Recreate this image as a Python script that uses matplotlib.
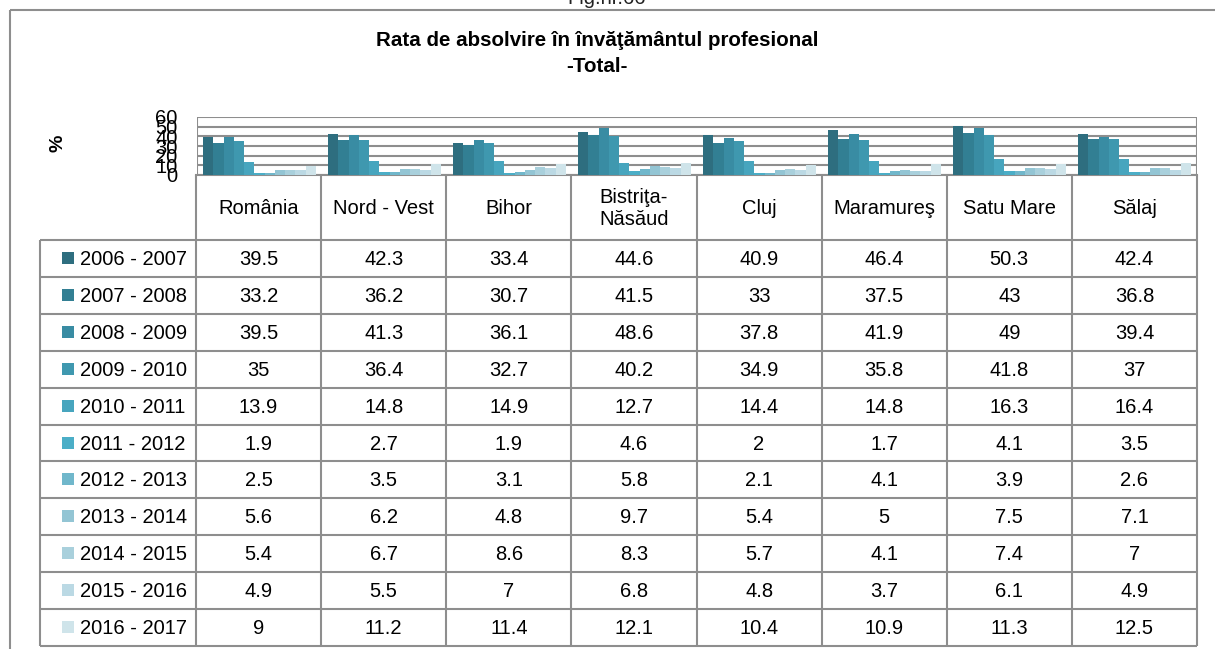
import matplotlib
matplotlib.use("Agg")
import matplotlib.pyplot as plt
from matplotlib.patches import Rectangle

# ---- data -------------------------------------------------------------
categories = ["România", "Nord - Vest", "Bihor", "Bistriţa-\nNăsăud",
              "Cluj", "Maramureş", "Satu Mare", "Sălaj"]
periods = ["2006 - 2007", "2007 - 2008", "2008 - 2009", "2009 - 2010",
           "2010 - 2011", "2011 - 2012", "2012 - 2013", "2013 - 2014",
           "2014 - 2015", "2015 - 2016", "2016 - 2017"]

s2006_2007 = [39.5, 42.3, 33.4, 44.6, 40.9, 46.4, 50.3, 42.4]
s2007_2008 = [33.2, 36.2, 30.7, 41.5, 33, 37.5, 43, 36.8]
s2008_2009 = [39.5, 41.3, 36.1, 48.6, 37.8, 41.9, 49, 39.4]
s2009_2010 = [35, 36.4, 32.7, 40.2, 34.9, 35.8, 41.8, 37]
s2010_2011 = [13.9, 14.8, 14.9, 12.7, 14.4, 14.8, 16.3, 16.4]
s2011_2012 = [1.9, 2.7, 1.9, 4.6, 2, 1.7, 4.1, 3.5]
s2012_2013 = [2.5, 3.5, 3.1, 5.8, 2.1, 4.1, 3.9, 2.6]
s2013_2014 = [5.6, 6.2, 4.8, 9.7, 5.4, 5, 7.5, 7.1]
s2014_2015 = [5.4, 6.7, 8.6, 8.3, 5.7, 4.1, 7.4, 7]
s2015_2016 = [4.9, 5.5, 7, 6.8, 4.8, 3.7, 6.1, 4.9]
s2016_2017 = [9, 11.2, 11.4, 12.1, 10.4, 10.9, 11.3, 12.5]

series = [s2006_2007, s2007_2008, s2008_2009, s2009_2010, s2010_2011,
          s2011_2012, s2012_2013, s2013_2014, s2014_2015, s2015_2016,
          s2016_2017]

y_ticks = [0, 10, 20, 30, 40, 50, 60]

title_line1 = "Rata de absolvire în învăţământul profesional"
title_line2 = "-Total-"
fig_label = "Fig.nr.66"

# ---- style ------------------------------------------------------------
colors = ["#2E6E7F", "#327F93", "#398CA3", "#3F98AF", "#47A5BE", "#4BAEC7",
          "#70B7CB", "#93C5D4", "#A9D0DC", "#BBD9E4", "#CFE4EA"]
FONT = ["Liberation Sans", "DejaVu Sans"]
FS = 14.5
GRID = "#8E8E8E"
LW = 1.5

W, H = 1215, 649
fig = plt.figure(figsize=(W / 100, H / 100), dpi=100)
fig.patch.set_facecolor("white")

# overlay in pixel coordinates for the frame, titles and data table
ov = fig.add_axes([0, 0, 1, 1])
ov.set_xlim(0, W)
ov.set_ylim(H, 0)
ov.axis("off")

# outer frame
ov.plot([10, W], [10, 10], color=GRID, lw=LW, solid_capstyle="butt")
ov.plot([10, 10], [10, H], color=GRID, lw=LW, solid_capstyle="butt")
ov.text(607, 4, fig_label, ha="center", va="baseline", fontsize=FS,
        family=FONT, color="#222222")

ov.text(597, 40, title_line1, ha="center", va="center", fontsize=14.8,
        fontweight="bold", family=FONT)
ov.text(597, 67, title_line2, ha="center", va="center", fontsize=14.8,
        fontweight="bold", family=FONT)
ov.text(58, 143, "%", ha="center", va="center", rotation=90, fontsize=14,
        fontweight="bold", family=FONT)

# ---- bar chart --------------------------------------------------------
px_left, px_right, px_top, px_bottom = 197, 1197, 117, 175
ax = fig.add_axes([px_left / W, 1 - px_bottom / H,
                   (px_right - px_left) / W, (px_bottom - px_top) / H])
n = len(series)
group = 0.9
bw = group / n
for k, vals in enumerate(series):
    xs = [i - group / 2 + bw * (k + 0.5) for i in range(len(categories))]
    ax.bar(xs, vals, width=bw, color=colors[k], linewidth=0, zorder=3)
ax.set_xlim(-0.5, len(categories) - 0.5)
ax.set_ylim(0, 60)
ax.set_yticks(y_ticks)
ax.set_yticklabels([str(t) for t in y_ticks], fontsize=FS, family=FONT)
ax.tick_params(axis="y", length=0, pad=14)
ax.set_xticks([])
for t in y_ticks:
    ax.axhline(t, color=GRID, lw=LW, zorder=1)
for s in ax.spines.values():
    s.set_visible(False)
ax.axvline(-0.5, color=GRID, lw=LW, zorder=1)
ax.axvline(len(categories) - 0.5, color=GRID, lw=LW, zorder=1)
ax.patch.set_alpha(0)

# ---- data table -------------------------------------------------------
lab_left, col0 = 40, 196
col_w = (px_right - col0) / len(categories)
hdr_top, hdr_bottom = 175, 240
row_h = (646 - hdr_bottom) / len(periods)
tbl_bottom = hdr_bottom + row_h * len(periods)

# vertical lines
for i in range(len(categories) + 1):
    x = col0 + i * col_w
    ov.plot([x, x], [hdr_top, tbl_bottom], color=GRID, lw=LW,
            solid_capstyle="butt")
ov.plot([lab_left, lab_left], [hdr_bottom, tbl_bottom], color=GRID, lw=LW,
        solid_capstyle="butt")
# horizontal lines
ov.plot([col0, px_right], [hdr_top, hdr_top], color=GRID, lw=LW)
for r in range(len(periods) + 1):
    y = hdr_bottom + r * row_h
    ov.plot([lab_left, px_right], [y, y], color=GRID, lw=LW,
            solid_capstyle="butt")

# header labels
for i, c in enumerate(categories):
    ov.text(col0 + (i + 0.5) * col_w, (hdr_top + hdr_bottom) / 2 + 1, c,
            ha="center", va="center", fontsize=FS, family=FONT,
            linespacing=1.25)

# rows
for r, (p, vals) in enumerate(zip(periods, series)):
    yc = hdr_bottom + (r + 0.5) * row_h
    ov.add_patch(Rectangle((62, yc - 6.5), 12, 12, color=colors[r], lw=0))
    ov.text(80, yc + 1, p, ha="left", va="center", fontsize=FS, family=FONT)
    for i, v in enumerate(vals):
        ov.text(col0 + (i + 0.5) * col_w, yc + 1, f"{v:g}", ha="center",
                va="center", fontsize=FS, family=FONT)

fig.savefig("out.png", dpi=100, facecolor="white")
